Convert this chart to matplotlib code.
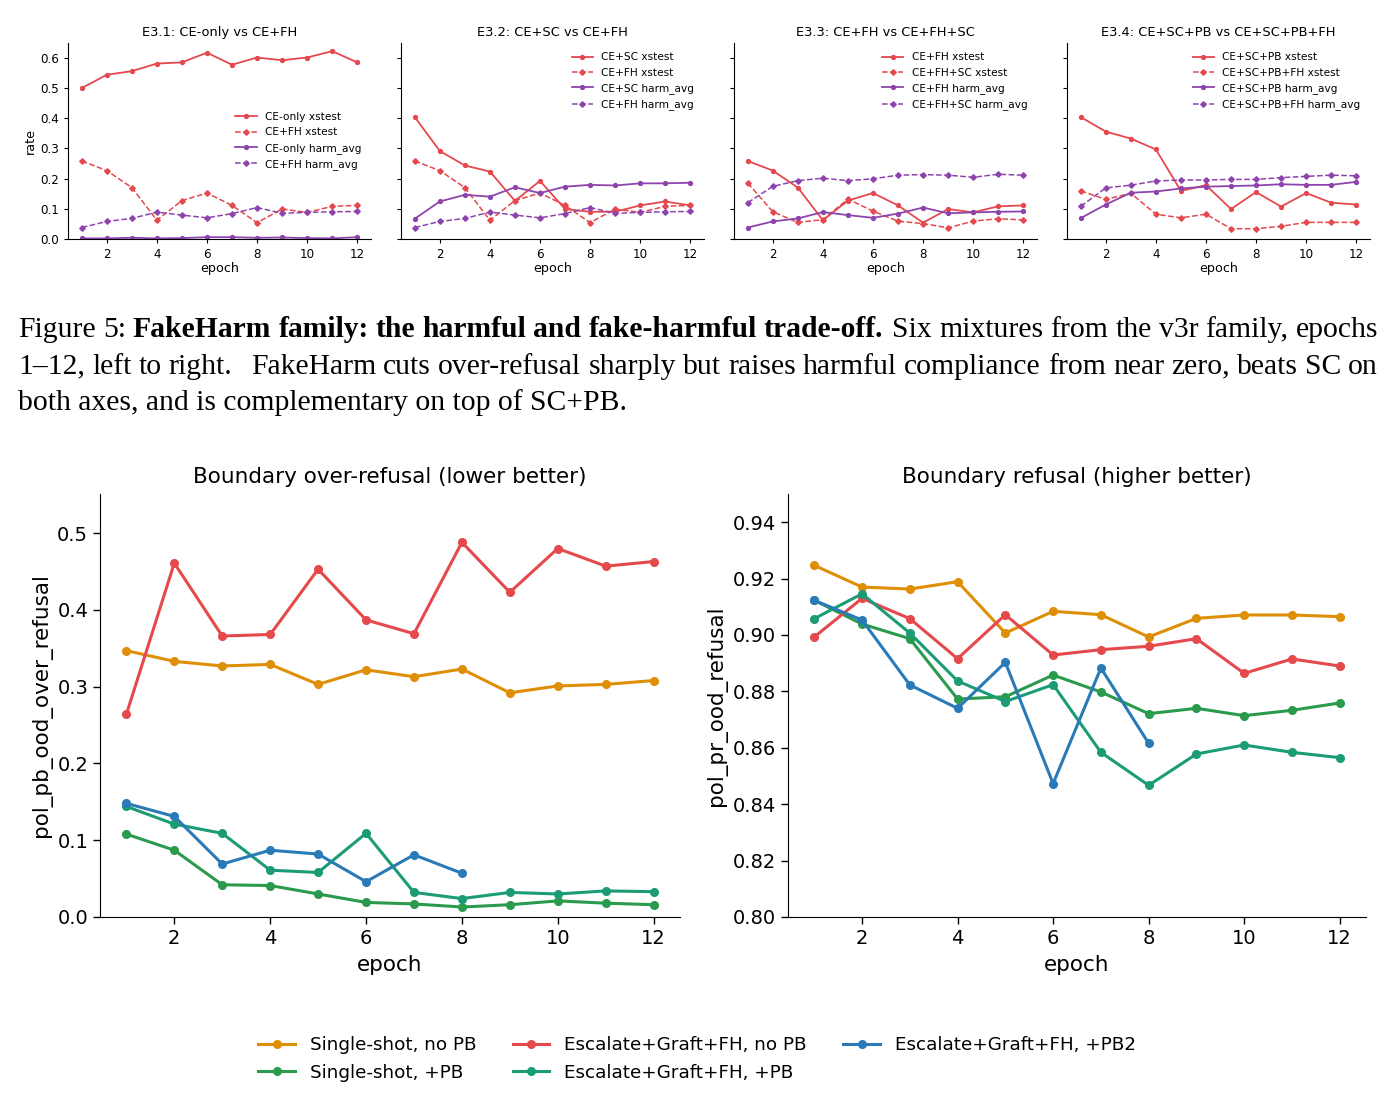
import matplotlib
matplotlib.use("Agg")
import matplotlib.pyplot as plt
import numpy as np

# ---------------- data ----------------
epochs = list(range(1, 13))

# top row (E3.x panels)
ce_only_xstest = [0.499, 0.543, 0.555, 0.580, 0.584, 0.616, 0.576, 0.600, 0.591, 0.600, 0.621, 0.584]
ce_fh_xstest = [0.258, 0.226, 0.170, 0.062, 0.127, 0.152, 0.111, 0.054, 0.099, 0.088, 0.108, 0.111]
ce_only_harm = [0.002, 0.002, 0.004, 0.002, 0.003, 0.006, 0.006, 0.004, 0.005, 0.003, 0.002, 0.006]
ce_fh_harm = [0.038, 0.058, 0.068, 0.089, 0.079, 0.070, 0.084, 0.104, 0.085, 0.088, 0.090, 0.091]
ce_sc_xstest = [0.403, 0.291, 0.243, 0.223, 0.126, 0.192, 0.099, 0.090, 0.090, 0.111, 0.124, 0.111]
ce_sc_harm = [0.067, 0.124, 0.146, 0.140, 0.171, 0.152, 0.173, 0.179, 0.177, 0.184, 0.184, 0.186]
ce_fh_sc_xstest = [0.185, 0.090, 0.055, 0.064, 0.132, 0.092, 0.059, 0.051, 0.037, 0.059, 0.067, 0.063]
ce_fh_sc_harm = [0.120, 0.174, 0.193, 0.201, 0.193, 0.199, 0.211, 0.213, 0.211, 0.204, 0.214, 0.211]
ce_sc_pb_xstest = [0.403, 0.355, 0.332, 0.296, 0.159, 0.178, 0.099, 0.155, 0.107, 0.152, 0.120, 0.114]
ce_sc_pb_fh_xstest = [0.159, 0.131, 0.151, 0.082, 0.070, 0.082, 0.034, 0.034, 0.042, 0.055, 0.055, 0.055]
ce_sc_pb_harm = [0.069, 0.114, 0.153, 0.157, 0.167, 0.173, 0.175, 0.177, 0.181, 0.179, 0.179, 0.189]
ce_sc_pb_fh_harm = [0.108, 0.169, 0.178, 0.192, 0.195, 0.195, 0.197, 0.197, 0.203, 0.207, 0.211, 0.209]

top_titles = ["E3.1: CE-only vs CE+FH", "E3.2: CE+SC vs CE+FH",
              "E3.3: CE+FH vs CE+FH+SC", "E3.4: CE+SC+PB vs CE+SC+PB+FH"]
top_names = [("CE-only", "CE+FH"), ("CE+SC", "CE+FH"),
             ("CE+FH", "CE+FH+SC"), ("CE+SC+PB", "CE+SC+PB+FH")]
top_series = [
    (ce_only_xstest, ce_fh_xstest, ce_only_harm, ce_fh_harm),
    (ce_sc_xstest, ce_fh_xstest, ce_sc_harm, ce_fh_harm),
    (ce_fh_xstest, ce_fh_sc_xstest, ce_fh_harm, ce_fh_sc_harm),
    (ce_sc_pb_xstest, ce_sc_pb_fh_xstest, ce_sc_pb_harm, ce_sc_pb_fh_harm),
]

# bottom row
mix_labels = ["Single-shot, no PB", "Single-shot, +PB", "Escalate+Graft+FH, no PB",
              "Escalate+Graft+FH, +PB", "Escalate+Graft+FH, +PB2"]
over_refusal = [
    [0.347, 0.333, 0.327, 0.329, 0.303, 0.322, 0.313, 0.323, 0.292, 0.301, 0.303, 0.308],
    [0.108, 0.087, 0.042, 0.041, 0.030, 0.019, 0.017, 0.013, 0.016, 0.021, 0.018, 0.016],
    [0.264, 0.461, 0.366, 0.368, 0.453, 0.387, 0.369, 0.488, 0.423, 0.480, 0.457, 0.463],
    [0.144, 0.121, 0.109, 0.061, 0.058, 0.109, 0.032, 0.024, 0.032, 0.030, 0.034, 0.033],
    [0.148, 0.131, 0.069, 0.087, 0.082, 0.046, 0.081, 0.057],
]
refusal = [
    [0.9247, 0.9170, 0.9163, 0.9189, 0.9007, 0.9084, 0.9072, 0.8993, 0.9059, 0.9071, 0.9071, 0.9065],
    [0.9123, 0.9039, 0.8987, 0.8773, 0.8781, 0.8858, 0.8798, 0.8721, 0.8740, 0.8714, 0.8733, 0.8759],
    [0.8993, 0.9130, 0.9058, 0.8916, 0.9072, 0.8929, 0.8948, 0.8960, 0.8987, 0.8864, 0.8915, 0.8890],
    [0.9058, 0.9146, 0.9007, 0.8837, 0.8764, 0.8824, 0.8584, 0.8467, 0.8578, 0.8610, 0.8584, 0.8565],
    [0.9123, 0.9053, 0.8823, 0.8740, 0.8903, 0.8473, 0.8883, 0.8616],
]
mix_colors = ["#de8f05", "#2a9a4c", "#e5494b", "#1b9c76", "#2a7ab8"]

caption_line1 = [("Figure 5:", "normal"),
                 ("FakeHarm family: the harmful and fake-harmful trade-off.", "bold"),
                 ("Six mixtures from the v3r family, epochs", "normal")]
caption_line2 = [("1\u201312, left to right. FakeHarm cuts over-refusal sharply but raises harmful "
                  "compliance from near zero, beats SC on", "normal")]
caption_line3 = "both axes, and is complementary on top of SC+PB."

# ---------------- figure ----------------
W, H = 1394, 1106
fig = plt.figure(figsize=(W / 100, H / 100), dpi=100)
plt.rcParams["font.family"] = ["DejaVu Sans"]


def px_axes(x0, x1, ytop, ybot):
    return fig.add_axes([x0 / W, 1 - ybot / H, (x1 - x0) / W, (ybot - ytop) / H])


RED = "#e5484d"
PURPLE = "#8e44ad"

top_x = [(68, 371), (401, 704), (734, 1037), (1067, 1370)]
for i, ((x0, x1), title, names, ser) in enumerate(zip(top_x, top_titles, top_names, top_series)):
    ax = px_axes(x0, x1, 43, 239)
    a, b = names
    ax.plot(epochs, ser[0], color=RED, lw=1.3, marker="o", ms=2.8, label=f"{a} xstest")
    ax.plot(epochs, ser[1], color=RED, lw=1.1, ls="--", marker="D", ms=2.8, label=f"{b} xstest")
    ax.plot(epochs, ser[2], color=PURPLE, lw=1.3, marker="o", ms=2.8, label=f"{a} harm_avg")
    ax.plot(epochs, ser[3], color=PURPLE, lw=1.1, ls="--", marker="D", ms=2.8, label=f"{b} harm_avg")
    ax.set_xlim(0.45, 12.55)
    ax.set_ylim(0, 0.648)
    ax.set_xticks([2, 4, 6, 8, 10, 12])
    ax.set_yticks([0.0, 0.1, 0.2, 0.3, 0.4, 0.5, 0.6])
    ax.set_title(title, fontsize=9.4, pad=5)
    ax.set_xlabel("epoch", fontsize=9.2, labelpad=1)
    ax.tick_params(labelsize=8.6, length=3, width=0.8)
    for s in ("top", "right"):
        ax.spines[s].set_visible(False)
    for s in ("left", "bottom"):
        ax.spines[s].set_linewidth(0.8)
    if i == 0:
        ax.set_ylabel("rate", fontsize=9.2, labelpad=2)
        ax.legend(loc="center right", frameon=False, fontsize=7.6)
    else:
        ax.set_yticklabels([])
        ax.legend(loc="upper right", frameon=False, fontsize=7.6)

# bottom panels
axL = px_axes(100, 680, 494, 917)
axR = px_axes(788, 1366, 494, 917)
for ax, data, title, ylabel, ylim, yticks in [
    (axL, over_refusal, "Boundary over-refusal (lower better)", "pol_pb_ood_over_refusal",
     (0, 0.551), [0.0, 0.1, 0.2, 0.3, 0.4, 0.5]),
    (axR, refusal, "Boundary refusal (higher better)", "pol_pr_ood_refusal",
     (0.80, 0.950), [0.80, 0.82, 0.84, 0.86, 0.88, 0.90, 0.92, 0.94]),
]:
    for vals, lab, col in zip(data, mix_labels, mix_colors):
        ax.plot(epochs[:len(vals)], vals, color=col, lw=2.2, marker="o", ms=5.5, label=lab)
    ax.set_xlim(0.45, 12.55)
    ax.set_ylim(*ylim)
    ax.set_yticks(yticks)
    ax.set_xticks([2, 4, 6, 8, 10, 12])
    ax.set_title(title, fontsize=15.5, pad=8)
    ax.set_xlabel("epoch", fontsize=15.5, labelpad=5)
    ax.set_ylabel(ylabel, fontsize=15.5, labelpad=4)
    ax.tick_params(labelsize=14, length=5, width=1)
    for s in ("top", "right"):
        ax.spines[s].set_visible(False)

handles, labels = axL.get_legend_handles_labels()
fig.legend(handles, labels, loc="center", bbox_to_anchor=(0.5, 1 - 1059 / H), ncol=3,
           frameon=False, fontsize=13.2)

# caption (justified)
renderer = fig.canvas.get_renderer()
CAP_FS = 21.3
CAP_FAM = ["Liberation Serif", "DejaVu Serif"]


def measure(word, weight):
    t = fig.text(0, 0, word, fontsize=CAP_FS, family=CAP_FAM, weight=weight)
    w = t.get_window_extent(renderer).width
    t.remove()
    return w


def draw_justified(segments, baseline_px, sentence_gap=1.35, x0=18, x1=1378):
    words = []
    for text, weight in segments:
        for w in text.split(" "):
            if w:
                words.append((w, weight))
    widths = [measure(w, wt) for w, wt in words]
    gap_w = [sentence_gap if words[k][0].endswith(".") else 1.0 for k in range(len(words) - 1)]
    slack = (x1 - x0) - sum(widths)
    unit = slack / sum(gap_w)
    x = x0
    for k, ((w, wt), wd) in enumerate(zip(words, widths)):
        fig.text(x / W, 1 - baseline_px / H, w, fontsize=CAP_FS, family=CAP_FAM, weight=wt,
                 va="baseline", ha="left")
        if k < len(gap_w):
            x += wd + unit * gap_w[k]


draw_justified(caption_line1, 337, sentence_gap=1.3)
draw_justified(caption_line2, 373.5, sentence_gap=2.6)
fig.text(18 / W, 1 - 410 / H, caption_line3, fontsize=CAP_FS, family=CAP_FAM,
         va="baseline", ha="left")

fig.savefig("out.png", dpi=100)
